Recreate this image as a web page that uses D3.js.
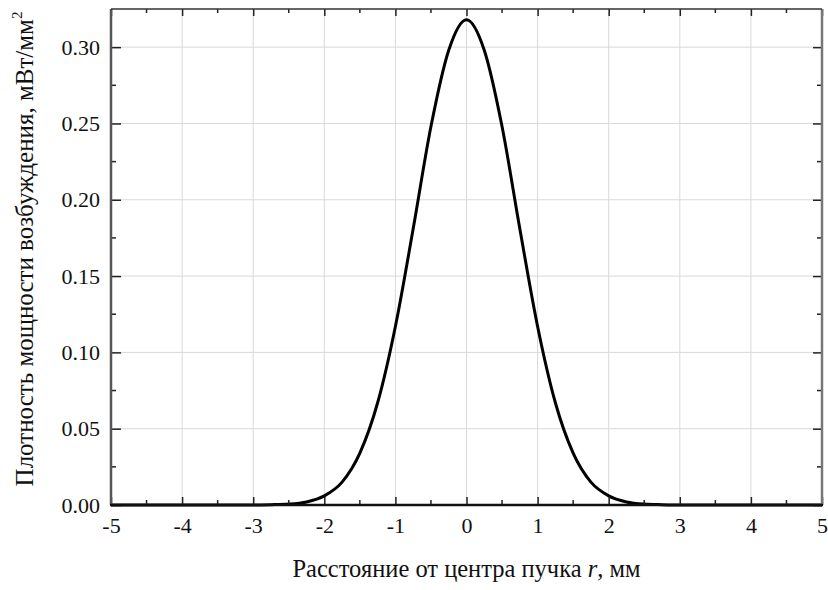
<!DOCTYPE html>
<html>
<head>
<meta charset="utf-8">
<script src="https://cdn.jsdelivr.net/npm/d3@7"></script>
</head>
<body style="margin:0">
<script>
// --- DATOS ---
// distancia desde el centro del haz, mm
const rValues = [-5, -4.5, -4, -3.5, -3, -2.75, -2.5, -2.25, -2, -1.75, -1.5, -1.25, -1, -0.75, -0.5, -0.25,
  0, 0.25, 0.5, 0.75, 1, 1.25, 1.5, 1.75, 2, 2.25, 2.5, 2.75, 3, 3.5, 4, 4.5, 5];
// densidad de potencia, mW/mm^2
const powerValues = [0, 0, 0, 0, 0, 0.0002, 0.0006, 0.002, 0.006, 0.015, 0.034, 0.067, 0.117, 0.181, 0.248, 0.298,
  0.318, 0.298, 0.248, 0.181, 0.117, 0.067, 0.034, 0.015, 0.006, 0.002, 0.0006, 0.0002, 0, 0, 0, 0, 0];
const xTicks = [-5, -4, -3, -2, -1, 0, 1, 2, 3, 4, 5];
const yTicks = [0.00, 0.05, 0.10, 0.15, 0.20, 0.25, 0.30];
const xMinor = [-4.5, -3.5, -2.5, -1.5, -0.5, 0.5, 1.5, 2.5, 3.5, 4.5];
const yMinor = [0.025, 0.075, 0.125, 0.175, 0.225, 0.275];

const FONT = '"Liberation Serif"';
const W = 828, H = 590;
const m = { left: 111, right: 6, top: 9, bottom: 85 };
const iw = W - m.left - m.right, ih = H - m.top - m.bottom;

const svg = d3.select("body").append("svg")
  .attr("width", W).attr("height", H);

const x = d3.scaleLinear().domain([-5, 5]).range([0, iw]);
const y = d3.scaleLinear().domain([0, 0.325]).range([ih, 0]);

const g = svg.append("g").attr("transform", `translate(${m.left},${m.top})`);

// Rejilla
const grid = g.append("g");
grid.selectAll(".gx").data(xTicks.slice(1, -1)).join("line")
  .attr("x1", d => x(d)).attr("x2", d => x(d)).attr("y1", 0).attr("y2", ih);
grid.selectAll(".gy").data(yTicks.slice(1)).join("line")
  .attr("y1", d => y(d)).attr("y2", d => y(d)).attr("x1", 0).attr("x2", iw);
grid.selectAll("line").attr("stroke", "#d9d9d9").attr("stroke-width", 1);

// Curva
const pts = rValues.map((r, i) => [r, powerValues[i]]);
g.append("path")
  .datum(pts)
  .attr("fill", "none")
  .attr("stroke", "#000")
  .attr("stroke-width", 3)
  .attr("stroke-linejoin", "round")
  .attr("d", d3.line().x(d => x(d[0])).y(d => y(d[1])).curve(d3.curveMonotoneX));

// Ejes (ticks hacia dentro)
const axBottom = d3.axisBottom(x).tickValues(xTicks).tickSize(-8).tickPadding(12).tickFormat(d => String(d));
const axLeft = d3.axisLeft(y).tickValues(yTicks).tickSize(-10).tickPadding(11).tickFormat(d => d.toFixed(2));
const axTop = d3.axisTop(x).tickValues(xTicks).tickSize(-7).tickFormat("");
const axRight = d3.axisRight(y).tickValues(yTicks).tickSize(-9).tickFormat("");

function styleAxis(sel) {
  sel.select(".domain").remove();
  sel.attr("font-family", null).attr("font-size", null);
  sel.selectAll(".tick line").attr("stroke", "#222").attr("stroke-width", 1.5);
  sel.selectAll(".tick text").attr("fill", "#111")
    .style("font-family", FONT).attr("font-size", 22);
}

const gx = g.append("g").attr("transform", `translate(0,${ih})`).call(axBottom);
const gy = g.append("g").call(axLeft);
const gt = g.append("g").call(axTop);
const gr = g.append("g").attr("transform", `translate(${iw},0)`).call(axRight);
[gx, gy, gt, gr].forEach(styleAxis);

// Ticks menores
gx.selectAll(".minor").data(xMinor).join("line").attr("class", "minor")
  .attr("x1", d => x(d)).attr("x2", d => x(d)).attr("y1", 0).attr("y2", -5);
gt.selectAll(".minor").data(xMinor).join("line").attr("class", "minor")
  .attr("x1", d => x(d)).attr("x2", d => x(d)).attr("y1", 0).attr("y2", 4);
gy.selectAll(".minor").data(yMinor).join("line").attr("class", "minor")
  .attr("y1", d => y(d)).attr("y2", d => y(d)).attr("x1", 0).attr("x2", 5);
gr.selectAll(".minor").data(yMinor).join("line").attr("class", "minor")
  .attr("y1", d => y(d)).attr("y2", d => y(d)).attr("x1", 0).attr("x2", -5);
g.selectAll(".minor").attr("stroke", "#222").attr("stroke-width", 1.5);

// Bordes del marco
g.append("line").attr("x1", 0).attr("x2", 0).attr("y1", 0).attr("y2", ih)
  .attr("stroke", "#555").attr("stroke-width", 2.5);
g.append("line").attr("x1", iw).attr("x2", iw).attr("y1", 0).attr("y2", ih)
  .attr("stroke", "#777").attr("stroke-width", 2.5);
g.append("line").attr("x1", 0).attr("x2", iw).attr("y1", 0).attr("y2", 0)
  .attr("stroke", "#333").attr("stroke-width", 1.5);
g.append("line").attr("x1", -1).attr("x2", iw + 1).attr("y1", ih).attr("y2", ih)
  .attr("stroke", "#111").attr("stroke-width", 2.5);

// Títulos
const xt = svg.append("text")
  .style("font-family", FONT).attr("font-size", 24.5).attr("fill", "#111")
  .attr("x", m.left + iw / 2).attr("y", 577).attr("text-anchor", "middle");
xt.append("tspan").text("Расстояние от центра пучка ");
xt.append("tspan").attr("font-style", "italic").text("r");
xt.append("tspan").text(", мм");

const yt = svg.append("text")
  .style("font-family", FONT).attr("font-size", 25).attr("fill", "#111")
  .attr("transform", "translate(33,249) rotate(-90)")
  .attr("text-anchor", "middle");
yt.append("tspan").text("Плотность мощности возбуждения, мВт/мм");
yt.append("tspan").attr("font-size", 15).attr("dy", -11).text("2");

// forzar el diseño para que la fuente se cargue antes de la captura
svg.selectAll("text").each(function () { this.getComputedTextLength(); });
</script>
</body>
</html>
